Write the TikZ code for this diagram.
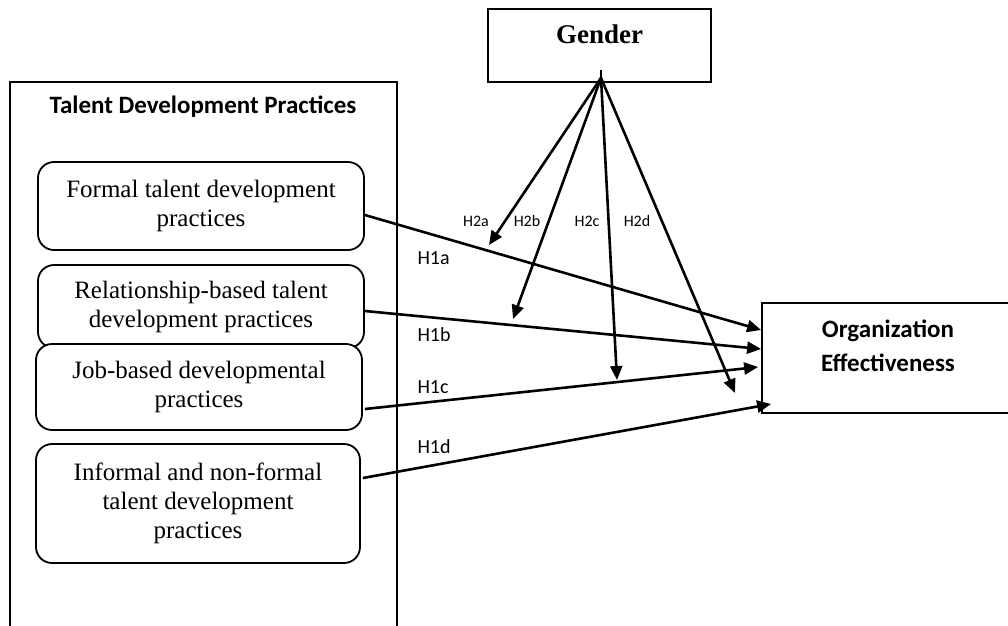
\documentclass[tikz,border=0pt]{standalone}
\usepackage{fontspec}
\setmainfont{Liberation Serif}
\newfontfamily\calib{Carlito}
\usetikzlibrary{arrows.meta,calc}
\begin{document}
\begin{tikzpicture}[x=1pt,y=-1pt,
  boxline/.style={draw=black,line width=1.8pt},
  practice/.style={boxline,fill=white,rounded corners=16pt,align=center,inner sep=0pt,
     font=\fontsize{25}{29}\selectfont},
  conn/.style={line width=2.6pt,-{Triangle[length=14pt,width=12pt]}},
  hone/.style={anchor=west,font=\calib\fontsize{20}{24}\selectfont},
  htwo/.style={font=\calib\fontsize{16}{19}\selectfont}]
\path[use as bounding box,clip] (0,0) rectangle (1008,625);
\fill[white] (0,0) rectangle (1008,625);
% outer container
\draw[boxline] (10,82) rectangle (397,660);
\node[font=\calib\bfseries\fontsize{25}{30}\selectfont] (title) at (203,107) {Talent Development Practices};
% practice boxes
\node[practice,minimum width=326pt,minimum height=88pt] (b1) at (201,206) {Formal talent development\\practices};
\node[practice,minimum width=326pt,minimum height=83pt] (b2) at (201,306.5) {Relationship-based talent\\development practices};
\node[practice,minimum width=326pt,minimum height=86pt] (b3) at (199,387) {Job-based developmental\\practices};
\node[practice,minimum width=324pt,minimum height=119pt] (b4) at (198,503.5) {Informal and non-formal\\talent development\\practices};
% gender
\node[boxline,minimum width=223pt,minimum height=73pt,inner sep=0pt] (gender) at (599.5,45.5) {};
\node[font=\bfseries\fontsize{27}{32}\selectfont] (gtext) at ([yshift=11pt]gender.center) {Gender};
% organization effectiveness
\node[boxline,minimum width=252pt,minimum height=110pt,inner sep=0pt] (org) at (888,358) {};
\node[align=center,font=\calib\bfseries\fontsize{25}{34}\selectfont] (otext) at ([yshift=12.5pt]org.center) {Organization\\Effectiveness};
% H1 paths
\draw[conn] ([yshift=-9pt]b1.east) -- ([yshift=28pt]org.west);
\draw[conn] ([yshift=-4.5pt]b2.east) -- ([yshift=9pt]org.west);
\draw[conn] ([xshift=2pt,yshift=-22pt]b3.east) -- ([xshift=-3pt,yshift=-9pt]org.west);
\draw[conn] ([xshift=2pt,yshift=25.5pt]b4.east) -- ([xshift=10pt,yshift=-46pt]org.west);
% H2 paths
\coordinate (gsrc) at ([xshift=1.5pt,yshift=5pt]gender.south);
\coordinate (e2a) at (489,245);
\coordinate (e2b) at (513,319);
\coordinate (e2c) at (617,380);
\coordinate (e2d) at (735,393);
\draw[line width=2.6pt] (gsrc) -- ++(0,-8);
\draw[conn] (gsrc) -- (e2a);
\draw[conn] (gsrc) -- (e2b);
\draw[conn] (gsrc) -- (e2c);
\draw[conn] (gsrc) -- (e2d);
% labels
\node[htwo] (l2a) at (476,221) {H2a};
\node[htwo] (l2b) at (527,221) {H2b};
\node[htwo] (l2c) at (587,221) {H2c};
\node[htwo] (l2d) at (637,221) {H2d};
\node[hone] (l1a) at (414,258) {H1a};
\node[hone] (l1b) at (414,335) {H1b};
\node[hone] (l1c) at (414,387) {H1c};
\node[hone] (l1d) at (414,447) {H1d};
\end{tikzpicture}
\end{document}
